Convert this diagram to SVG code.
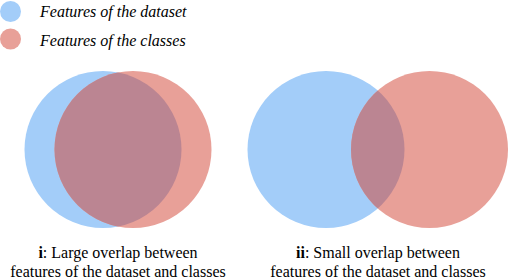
<svg xmlns="http://www.w3.org/2000/svg" width="510" height="278" viewBox="0 0 510 278">
<defs>
<clipPath id="clipL"><circle cx="103" cy="149.5" r="78.5"/></clipPath>
<clipPath id="clipR"><circle cx="326" cy="149.5" r="78.5"/></clipPath>
</defs>
<g id="legend">
<circle fill="#a3cdf9" cx="10.5" cy="11.5" r="10.5"/>
<text x="40" y="16.7" font-family="Liberation Serif, serif" font-style="italic" font-size="16" fill="#000">Features of the dataset</text>
<circle fill="#e8a098" cx="10.5" cy="39" r="10.5"/>
<text x="40" y="45.5" font-family="Liberation Serif, serif" font-style="italic" font-size="16" fill="#000">Features of the classes</text>
</g>
<g id="venn-large">
<circle fill="#a3cdf9" cx="103" cy="149.5" r="78.5"/>
<circle fill="#e8a098" cx="133" cy="149.5" r="78.5"/>
<circle fill="#bb8592" cx="133" cy="149.5" r="78.5" clip-path="url(#clipL)"/>
<text x="118" y="257.7" font-family="Liberation Serif, serif" font-size="16" text-anchor="middle" fill="#000"><tspan font-weight="bold">i</tspan>: Large overlap between</text>
<text x="118" y="276.5" font-family="Liberation Serif, serif" font-size="16" text-anchor="middle" fill="#000">features of the dataset and classes</text>
</g>
<g id="venn-small">
<circle fill="#a3cdf9" cx="326" cy="149.5" r="78.5"/>
<circle fill="#e8a098" cx="429.5" cy="149.5" r="78.5"/>
<circle fill="#bb8592" cx="429.5" cy="149.5" r="78.5" clip-path="url(#clipR)"/>
<text x="378" y="257.7" font-family="Liberation Serif, serif" font-size="16" text-anchor="middle" fill="#000"><tspan font-weight="bold">ii</tspan>: Small overlap between</text>
<text x="378" y="276.5" font-family="Liberation Serif, serif" font-size="16" text-anchor="middle" fill="#000">features of the dataset and classes</text>
</g>
</svg>
